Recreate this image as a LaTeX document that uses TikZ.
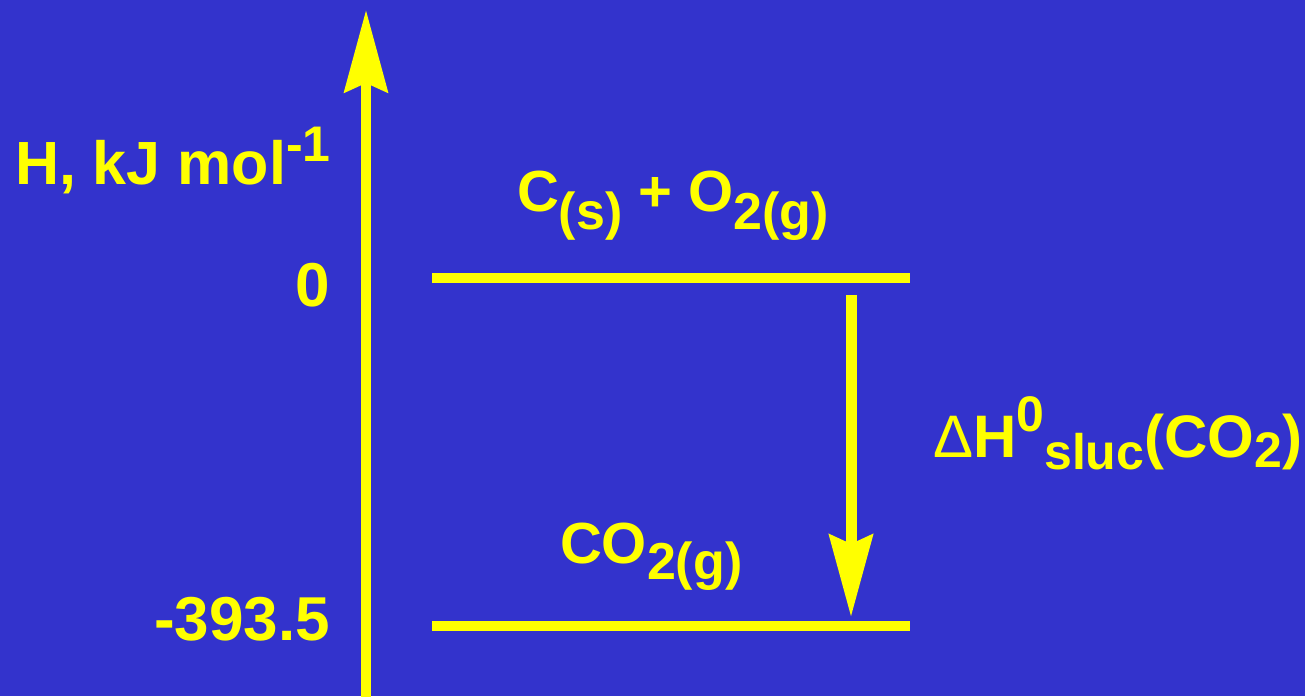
\documentclass[tikz,border=0pt]{standalone}
\usepackage{fontspec}
\setmainfont{Liberation Sans}
\usetikzlibrary{arrows.meta}
\definecolor{bgblue}{RGB}{51,51,204}
\definecolor{ylw}{RGB}{255,255,0}
\newcommand{\fsz}[1]{\fontsize{#1}{#1}\selectfont}
\newcommand{\sbx}[3]{\raisebox{#1}{\fsz{#2}#3}}
\tikzset{
  lbl/.style={inner sep=0pt, outer sep=0pt, text=ylw, font=\bfseries},
  level/.style={draw=ylw, line width=10.5pt},
  bigarrow/.style={draw=ylw, line width=10pt, -{Stealth[length=82pt,width=43pt,inset=9pt]}},
}
\begin{document}
\begin{tikzpicture}[x=1pt,y=1pt]
\useasboundingbox (0,0) rectangle (1305,696);
\fill[bgblue] (0,0) rectangle (1305,696);
% axis
\coordinate (axb) at (366,-10);
\coordinate (axt) at (366,686);
\draw[bigarrow] (axb) -- (axt);
% levels
\coordinate (l1a) at (432,418);
\coordinate (l1b) at (910,418);
\coordinate (l2a) at (432,70);
\coordinate (l2b) at (910,70);
\draw[level] (l1a) -- (l1b);
\draw[level] (l2a) -- (l2b);
% reaction arrow
\coordinate (ra) at (851,401);
\coordinate (rb) at (851,79);
\draw[bigarrow, line width=11pt] (ra) -- (rb);
% labels
\node[lbl, anchor=base west] (hlab) at (15,511) {\fsz{61}H, kJ mol\sbx{23pt}{50}{-1}};
\node[lbl, anchor=base east] (zero) at (330,389) {\fsz{62}0};
\node[lbl, anchor=base east] (m393) at (330,56) {\fsz{62}-393.5};
\node[lbl, anchor=base west] (react) at (517,484) {\fsz{58}C\sbx{-18pt}{52}{(s)} + O\sbx{-18pt}{52}{2(g)}};
\node[lbl, anchor=base west] (prod) at (560,133) {\fsz{58}CO\sbx{-17pt}{52}{2(g)}};
\node[lbl, anchor=base west] (dh) at (933,238) {\fsz{60}{\mdseries Δ}H\sbx{26pt}{50}{0}\sbx{-12pt}{50}{sluc}(CO\sbx{-10pt}{50}{2})};
\end{tikzpicture}
\end{document}
